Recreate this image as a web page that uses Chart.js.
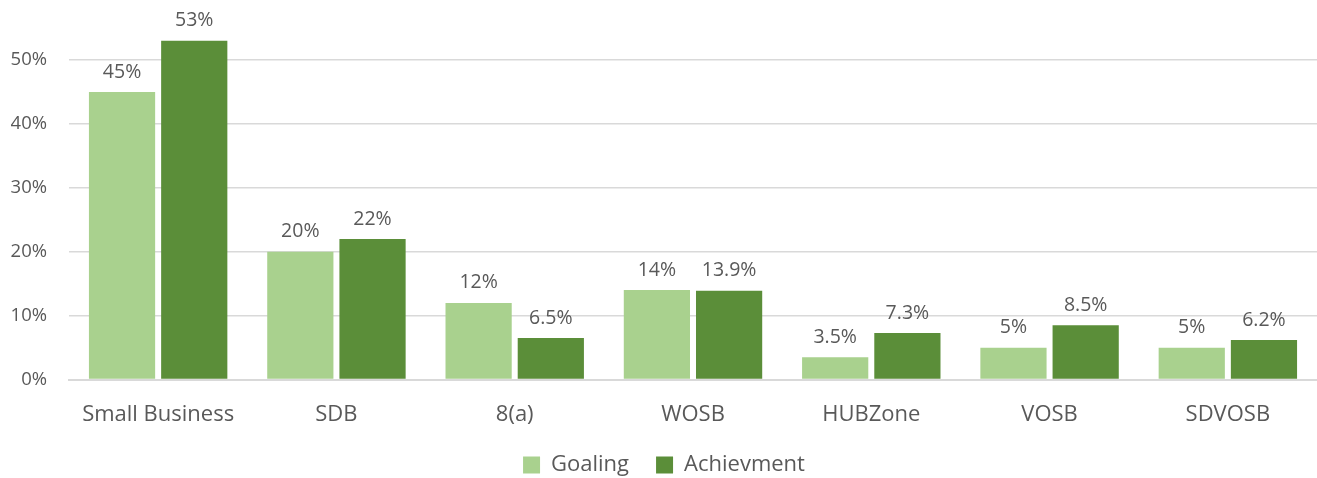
<!DOCTYPE html>
<html lang="en">
<head>
    <meta charset="UTF-8">
    <title>Goaling vs Achievement</title>
    <style>
        html, body {
            margin: 0;
            padding: 0;
            background: #fff;
        }

        #wrap {
            position: relative;
            width: 1317px;
            height: 478px;
            overflow: hidden;
        }

        /* the picture is cropped at the top, so the canvas sits a bit higher */
        #chart {
            position: absolute;
            left: 0;
            top: -37px;
        }
    </style>
</head>
<body>
    <div id="wrap">
        <canvas id="chart" width="1317" height="523"></canvas>
    </div>

    <script src="https://cdn.jsdelivr.net/npm/chart.js"></script>
    <script>
        const categories = ['Small Business', 'SDB', '8(a)', 'WOSB', 'HUBZone', 'VOSB', 'SDVOSB'];
        const goaling = [45, 20, 12, 14, 3.5, 5, 5];
        const achievement = [53, 22, 6.5, 13.9, 7.3, 8.5, 6.2];
        const seriesNames = ['Goaling', 'Achievment'];

        const textColor = '#595959';
        const fontFamily = '"Open Sans", "Noto Sans", sans-serif';

        // draws the value above each bar
        const valueLabels = {
            id: 'valueLabels',
            afterDatasetsDraw(chart) {
                const ctx = chart.ctx;
                ctx.save();
                ctx.fillStyle = textColor;
                ctx.font = '19.5px ' + fontFamily;
                ctx.textAlign = 'center';
                ctx.textBaseline = 'middle';
                chart.data.datasets.forEach((ds, i) => {
                    chart.getDatasetMeta(i).data.forEach((bar, j) => {
                        ctx.fillText(ds.data[j] + '%', bar.x, bar.y - 20);
                    });
                });
                ctx.restore();
            }
        };

        new Chart(document.getElementById('chart'), {
            type: 'bar',
            data: {
                labels: categories,
                datasets: [{
                    label: seriesNames[0],
                    data: goaling,
                    backgroundColor: '#A9D18E',
                    borderWidth: 0,
                    categoryPercentage: 0.81,
                    barPercentage: 0.917
                }, {
                    label: seriesNames[1],
                    data: achievement,
                    backgroundColor: '#5B8E39',
                    borderWidth: 0,
                    categoryPercentage: 0.81,
                    barPercentage: 0.917
                }]
            },
            options: {
                responsive: false,
                animation: false,
                layout: {
                    padding: { top: 27, right: 0, left: 11, bottom: 0 }
                },
                scales: {
                    y: {
                        min: 0,
                        max: 60,
                        ticks: {
                            stepSize: 10,
                            color: textColor,
                            font: { size: 18.5, family: fontFamily },
                            padding: 22,
                            // the 60% line is cut off in the original
                            callback: v => v >= 60 ? '' : v + '%'
                        },
                        grid: { color: '#D9D9D9', lineWidth: 1.5, drawTicks: false },
                        border: { display: false },
                        afterFit: s => { s.width = 58; }
                    },
                    x: {
                        ticks: {
                            color: textColor,
                            font: { size: 22, family: fontFamily },
                            padding: 22
                        },
                        grid: { display: false, drawTicks: false },
                        border: { color: '#D9D9D9', width: 2 },
                        afterFit: s => { s.height = s.height - 23; }
                    }
                },
                plugins: {
                    legend: {
                        position: 'bottom',
                        labels: {
                            color: textColor,
                            font: { size: 22, family: fontFamily },
                            boxWidth: 17,
                            boxHeight: 17,
                            padding: 27
                        }
                    },
                    tooltip: { enabled: false }
                }
            },
            plugins: [valueLabels]
        });
    </script>
</body>
</html>
